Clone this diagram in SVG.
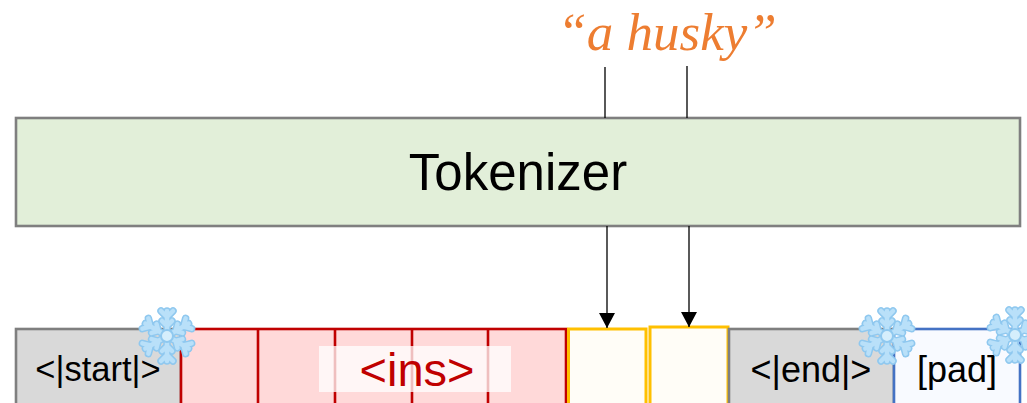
<svg xmlns="http://www.w3.org/2000/svg" width="1027" height="403" viewBox="0 0 1027 403">
<style>
text{font-family:"Liberation Sans",Arial,sans-serif;text-anchor:middle;fill:#000}
.gray{fill:#d9d9d9;stroke:#7f7f7f;stroke-width:2.6}
.red{fill:#ffd9d9;stroke:#c00000;stroke-width:2.6}
.yel{fill:#fffdf7;stroke:#ffc000;stroke-width:3}
.conn{stroke:#000;stroke-width:1.3;fill:none}
.ice{fill:none;stroke:#8fc8ef;stroke-width:7.5;stroke-linecap:round;stroke-linejoin:round}
.ice2{fill:none;stroke:#b9e0f9;stroke-width:4.5;stroke-linecap:round;stroke-linejoin:round}
</style>
<defs>
<marker id="ah" markerUnits="userSpaceOnUse" markerWidth="16" markerHeight="16" refX="15" refY="8" orient="auto"><path d="M0 0L15 8L0 16Z" fill="#000"/></marker>
<g id="arm"><path d="M0 0V-25M-6 -25L0 -19L6 -25M-5 -15L0 -10L5 -15"/></g>
<g id="flake">
<g class="ice"><use href="#arm"/><use href="#arm" transform="rotate(60)"/><use href="#arm" transform="rotate(120)"/><use href="#arm" transform="rotate(180)"/><use href="#arm" transform="rotate(240)"/><use href="#arm" transform="rotate(300)"/></g>
<g class="ice2"><use href="#arm"/><use href="#arm" transform="rotate(60)"/><use href="#arm" transform="rotate(120)"/><use href="#arm" transform="rotate(180)"/><use href="#arm" transform="rotate(240)"/><use href="#arm" transform="rotate(300)"/></g>
<circle r="6" fill="#d5eefc" stroke="#8fc8ef" stroke-width="2"/>
</g>
</defs>
<rect width="1027" height="403" fill="#fff"/>
<g id="quote"><text x="667" y="50" font-size="53" style="font-family:'Liberation Serif','Times New Roman',serif;font-style:italic;fill:#ed7d31">“a husky”</text></g>
<g id="tokenizer"><rect x="16" y="118" width="1004" height="108" fill="#e2efd9" stroke="#7f7f7f" stroke-width="2.6"/><text x="518" y="190" font-size="51">Tokenizer</text></g>
<g id="start"><rect class="gray" x="16" y="329" width="165" height="90"/><text x="98" y="381" font-size="34.5">&lt;|start|&gt;</text></g>
<g id="ins">
<rect class="red" x="181" y="329" width="385" height="90"/>
<path d="M258 329V403M335 329V403M412 329V403M488 329V403" stroke="#c00000" stroke-width="2.6" fill="none"/>
<rect x="319" y="346" width="192" height="46" fill="#fff" fill-opacity="0.75"/>
<text x="417" y="386" font-size="47" style="fill:#c00000">&lt;ins&gt;</text>
</g>
<g id="token1"><rect class="yel" x="568.5" y="329" width="77.5" height="90"/></g>
<g id="token2"><rect class="yel" x="650" y="327" width="78" height="92"/></g>
<g id="end"><rect class="gray" x="729" y="329" width="165" height="90"/><text x="811" y="382" font-size="36">&lt;|end|&gt;</text></g>
<g id="pad"><rect x="894" y="329" width="126" height="90" fill="#f8faff" stroke="#4472c4" stroke-width="2.6"/><text x="957" y="382" font-size="36">[pad]</text></g>
<g id="connectors">
<path class="conn" d="M605 67V118M687 66V118"/>
<path class="conn" d="M607 226L607 328" marker-end="url(#ah)"/>
<path class="conn" d="M689 226L689 327" marker-end="url(#ah)"/>
</g>
<g id="snow1"><use href="#flake" x="167" y="336"/></g>
<g id="snow2"><use href="#flake" x="887" y="336"/></g>
<g id="snow3"><use href="#flake" x="1015" y="335"/></g>
</svg>
